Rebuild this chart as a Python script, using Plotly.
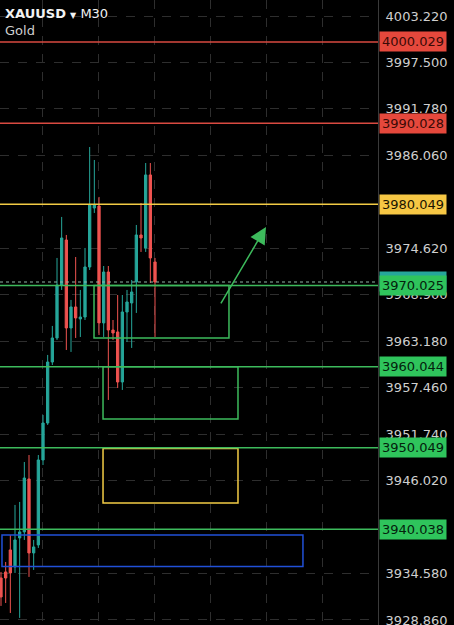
import plotly.graph_objects as go

# ---- data ----
bar_index = list(range(34))
open_ = [3934.03, 3934.77, 3937.48, 3935.39, 3938.96, 3939.70, 3946.22, 3937.11, 3938.10, 3948.56,
         3953.11, 3960.62, 3963.58, 3970.10, 3975.64, 3964.81, 3967.40, 3965.92, 3966.16, 3972.32,
         3979.58, 3979.83, 3965.43, 3971.70, 3964.56, 3964.32, 3958.16, 3966.78, 3967.89, 3970.47,
         3976.26, 3974.66, 3983.65, 3972.94]
high_ = [3934.77, 3936.00, 3939.33, 3943.02, 3943.39, 3948.31, 3949.17, 3938.71, 3949.17, 3954.10,
         3961.49, 3965.06, 3973.43, 3978.48, 3976.26, 3968.26, 3973.55, 3969.49, 3974.66, 3987.09,
         3985.49, 3980.94, 3972.44, 3972.44, 3965.79, 3968.87, 3968.87, 3969.49, 3970.72, 3977.49,
         3980.20, 3985.12, 3985.12, 3973.43]
low_ = [3930.59, 3930.95, 3929.72, 3934.65, 3929.11, 3938.71, 3934.16, 3935.02, 3937.73, 3947.94,
        3952.87, 3960.25, 3963.33, 3969.49, 3962.10, 3961.86, 3963.58, 3963.70, 3965.79, 3971.95,
        3978.97, 3963.95, 3963.70, 3955.95, 3963.33, 3957.42, 3957.18, 3963.09, 3962.35, 3966.66,
        3974.17, 3974.17, 3970.35, 3963.70]
close_ = [3931.69, 3934.03, 3934.65, 3938.71, 3939.70, 3946.34, 3937.11, 3937.85, 3948.56, 3953.11,
          3960.62, 3963.58, 3970.10, 3975.89, 3964.81, 3967.40, 3966.04, 3966.16, 3972.32, 3979.95,
          3979.95, 3965.43, 3971.70, 3964.56, 3964.19, 3958.16, 3966.78, 3968.01, 3969.24, 3976.26,
          3975.89, 3983.65, 3973.43, 3970.47]

# price levels (horizontal lines with labels on the price scale)
level_prices = [4000.029, 3990.028, 3980.049, 3970.025, 3960.044, 3950.049, 3940.038]
level_kinds = ["red", "red", "yellow", "green", "green", "green", "green"]
bid_price = 3970.470

# price-scale ticks (the ones hidden behind level labels are left out)
tick_values = [4003.220, 3997.500, 3991.780, 3986.060, 3974.620, 3968.900,
               3963.180, 3957.460, 3951.740, 3946.020, 3934.580, 3928.860]

# zones drawn on the chart: (x start, x end, price top, price bottom, kind)
zone_x0 = [19.93, 21.86, 21.86, 0.21]
zone_x1 = [48.85, 50.78, 50.78, 64.70]
zone_top = [3970.025, 3960.044, 3949.98, 3939.33]
zone_bottom = [3963.58, 3953.61, 3943.27, 3935.45]
zone_kind = ["green", "green", "yellow", "blue"]

# arrow (from -> to), in bar index / price
arrow_from = (46.93, 3967.64)
arrow_to = (56.78, 3977.24)

# ---- styles ----
UP = "#26a69a"
DOWN = "#ef5350"
LINE_COL = {"red": "#d94a41", "yellow": "#f2cb45", "green": "#3dba5c", "blue": "#2150d8"}
LABEL_BG = {"red": "#e5483c", "yellow": "#f6c744", "green": "#2fc45c"}
LABEL_FG = {"red": "#3a0a06", "yellow": "#1a1400", "green": "#04210c"}

fig = go.Figure()
fig.add_trace(go.Candlestick(
    x=bar_index, open=open_, high=high_, low=low_, close=close_,
    increasing=dict(line=dict(color=UP, width=1), fillcolor=UP),
    decreasing=dict(line=dict(color=DOWN, width=1), fillcolor=DOWN),
    whiskerwidth=0, hoverinfo="skip", showlegend=False,
))

shapes = []
annotations = []

# zones
for x0, x1, t, b, k in zip(zone_x0, zone_x1, zone_top, zone_bottom, zone_kind):
    shapes.append(dict(type="rect", xref="x", yref="y", x0=x0, x1=x1, y0=b, y1=t,
                       line=dict(color=LINE_COL[k], width=1.5), fillcolor="rgba(0,0,0,0)",
                       layer="above"))

# bid line (dotted)
shapes.append(dict(type="line", xref="paper", yref="y", x0=0, x1=1, y0=bid_price, y1=bid_price,
                   line=dict(color="#8fb8a6", width=1, dash="dot"), layer="above"))
annotations.append(dict(xref="paper", yref="y", x=1, y=bid_price, xanchor="left", yanchor="middle",
                        xshift=1, yshift=1, text=f"{bid_price:.3f}", showarrow=False,
                        bgcolor="#26a69a", borderpad=2,
                        font=dict(family="DejaVu Sans", size=13, color="#062019")))

# level lines + labels
for p, k in zip(level_prices, level_kinds):
    shapes.append(dict(type="line", xref="paper", yref="y", x0=0, x1=1, y0=p, y1=p,
                       line=dict(color=LINE_COL[k], width=1.5), layer="above"))
    annotations.append(dict(xref="paper", yref="y", x=1, y=p, xanchor="left", yanchor="middle",
                            xshift=1, text=f"{p:.3f}", showarrow=False,
                            bgcolor=LABEL_BG[k], borderpad=2,
                            font=dict(family="DejaVu Sans", size=13, color=LABEL_FG[k])))

# arrow
annotations.append(dict(xref="x", yref="y", axref="x", ayref="y",
                        x=arrow_to[0], y=arrow_to[1], ax=arrow_from[0], ay=arrow_from[1],
                        showarrow=True, arrowhead=2, arrowsize=2.2, arrowwidth=1.5,
                        arrowcolor="#3dba5c", text=""))

# symbol header
annotations.append(dict(xref="paper", yref="paper", x=0, y=1, xanchor="left", yanchor="top",
                        xshift=3, yshift=-4, showarrow=False, align="left",
                        text="<b>XAUUSD</b> <span style='font-size:8px'>▼</span> M30",
                        font=dict(family="DejaVu Sans", size=13, color="#f2f2f2")))
annotations.append(dict(xref="paper", yref="paper", x=0, y=1, xanchor="left", yanchor="top",
                        xshift=3, yshift=-21, showarrow=False, align="left",
                        text="Gold",
                        font=dict(family="DejaVu Sans", size=13, color="#cfcfcf")))

fig.update_layout(
    width=454, height=625,
    margin=dict(l=0, r=76, t=0, b=0),
    paper_bgcolor="#000000", plot_bgcolor="#000000",
    shapes=shapes, annotations=annotations,
    showlegend=False,
    xaxis=dict(range=[-0.214, 80.78], rangeslider=dict(visible=False),
               showticklabels=False, ticks="", zeroline=False, automargin=False,
               showgrid=True, gridcolor="#2e2e2e", griddash="dash", gridwidth=1,
               tickmode="linear", tick0=8.8, dtick=12, fixedrange=True),
    yaxis=dict(range=[3928.24, 4005.19], side="right", automargin=False,
               tickmode="array", tickvals=tick_values,
               ticktext=[f"{v:.3f}" for v in tick_values],
               tickfont=dict(family="DejaVu Sans", size=13, color="#cfcfcf"),
               ticks="outside", ticklen=4, tickcolor="#000000",
               ticklabeloverflow="allow",
               showgrid=True, gridcolor="#2e2e2e", griddash="dash", gridwidth=1,
               showline=True, linecolor="#3a3a3a", linewidth=1,
               zeroline=False, fixedrange=True),
)

fig.write_html("out.html")
